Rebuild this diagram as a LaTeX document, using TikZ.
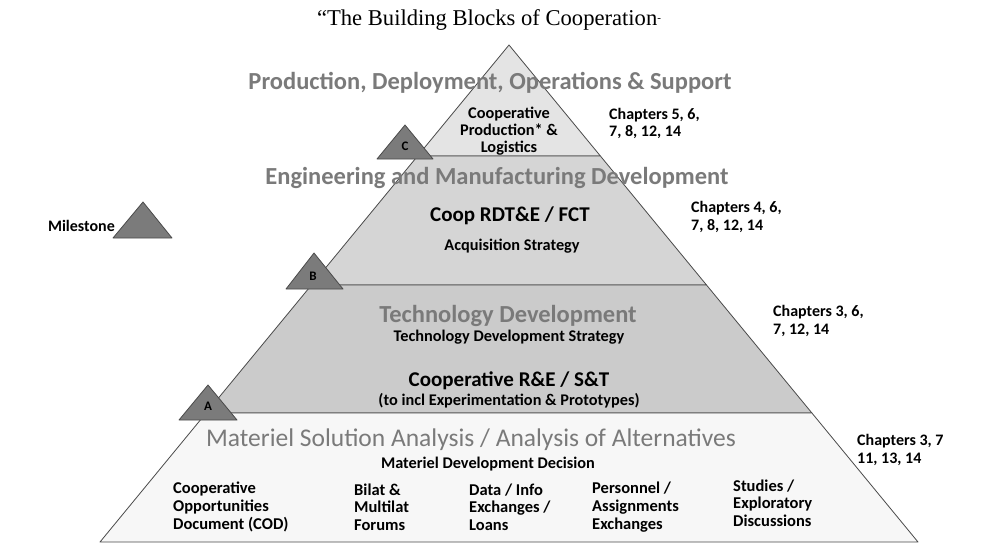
\documentclass[tikz,border=0pt]{standalone}
\usepackage{fontspec}
\setmainfont{Carlito}
\newfontfamily\titlefont{Liberation Serif}
\definecolor{phasegray}{HTML}{7A7A7A}
\definecolor{edgegray}{HTML}{4A4A4A}
\definecolor{bandA}{HTML}{E4E4E4}
\definecolor{bandB}{HTML}{D5D5D5}
\definecolor{bandC}{HTML}{CBCBCB}
\definecolor{bandD}{HTML}{F7F7F7}
\definecolor{msfill}{HTML}{7B7B7B}
\begin{document}
\begin{tikzpicture}[x=1pt,y=-1pt,
  band/.style={draw=edgegray, line width=0.8pt, line join=round},
  milestone/.style={fill=msfill, draw=edgegray, line width=0.8pt, line join=round},
  mslabel/.style={font=\bfseries\fontsize{13}{14}\selectfont, text=black, inner sep=0pt},
  phase/.style={font=\bfseries\fontsize{24.5}{28}\selectfont, text=phasegray, inner sep=0pt},
  phasereg/.style={font=\fontsize{25.5}{29}\selectfont, text=phasegray, inner sep=0pt},
  activity/.style={font=\bfseries\fontsize{21}{24}\selectfont, inner sep=0pt},
  note/.style={font=\bfseries\fontsize{16.3}{17}\selectfont, inner sep=0pt, align=center},
  chapters/.style={font=\bfseries\fontsize{16}{17.5}\selectfont, inner sep=0pt, align=left, anchor=west},
  column/.style={font=\bfseries\fontsize{16.5}{17.7}\selectfont, inner sep=0pt, align=left, anchor=west}
]
\useasboundingbox (0,0) rectangle (982,544);

% corner points of the pyramid bands
\coordinate (apex) at (509,45);
\coordinate (l1) at (417.6,156); \coordinate (r1) at (600.4,156);
\coordinate (l2) at (311.5,285); \coordinate (r2) at (706.5,285);
\coordinate (l3) at (206.1,413); \coordinate (r3) at (811.9,413);
\coordinate (l4) at (100,542);   \coordinate (r4) at (918,542);

% the four bands, top to bottom
\path[band, fill=bandA] (apex) -- (r1) -- (l1) -- cycle;
\path[band, fill=bandB] (l1) -- (r1) -- (r2) -- (l2) -- cycle;
\path[band, fill=bandC] (l2) -- (r2) -- (r3) -- (l3) -- cycle;
\path[band, fill=bandD] (l3) -- (r3) -- (r4) -- (l4) -- cycle;

% title
\node[font=\titlefont\fontsize{22.6}{26}\selectfont, inner sep=0pt] (title) at (489,20)
  {“The Building Blocks of Cooperation\raisebox{0.35ex}{\fontsize{11}{11}\selectfont -}};

% milestone legend and markers
\path[milestone] (113,238) -- (143,202) -- (172,238) -- cycle;
\node[font=\bfseries\fontsize{16}{18}\selectfont, anchor=east, inner sep=0pt] (legend) at (115,226) {Milestone};

\path[milestone] (377,159) -- (405,125) -- (433,159) -- cycle;
\node[mslabel] (msC) at (405,146) {C};
\path[milestone] (286,289) -- (314,253) -- (343,289) -- cycle;
\node[mslabel] (msB) at (313,276) {B};
\path[milestone] (179,420) -- (208,385) -- (237,420) -- cycle;
\node[mslabel] (msA) at (208,406) {A};

% phase titles
\node[phase] (pds) at (490,83) {Production, Deployment, Operations \& Support};
\node[phase] (emd) at (497,178) {Engineering and Manufacturing Development};
\node[phase] (td) at (508,316) {Technology Development};
\node[phasereg] (msa) at (471,440) {Materiel Solution Analysis / Analysis of Alternatives};

% band contents
\node[note] (prod) at (509,131) {Cooperative\\Production* \&\\Logistics};
\node[activity] (rdte) at (510,216) {Coop RDT\&E / FCT};
\node[note] (acq) at (512,246) {Acquisition Strategy};
\node[note] (tds) at (509,337) {Technology Development Strategy};
\node[activity] (re) at (509,381) {Cooperative R\&E / S\&T};
\node[note] (proto) at (509,401) {(to incl Experimentation \& Prototypes)};
\node[note] (mdd) at (488,464) {Materiel Development Decision};

% chapter references
\node[chapters] (ch1) at (609,123.5) {Chapters 5, 6,\\7, 8, 12, 14};
\node[chapters] (ch2) at (691,217) {Chapters 4, 6,\\7, 8, 12, 14};
\node[chapters] (ch3) at (773,321) {Chapters 3, 6,\\7, 12, 14};
\node[chapters] (ch4) at (857,450) {Chapters 3, 7\\11, 13, 14};

% cooperative activities in the bottom band
\node[column] (cod) at (173,507) {Cooperative\\Opportunities\\Document (COD)};
\node[column] (forums) at (354,507) {Bilat \&\\Multilat\\Forums};
\node[column] (data) at (469,507) {Data / Info\\Exchanges /\\Loans};
\node[column] (pers) at (592,507) {Personnel /\\Assignments\\Exchanges};
\node[column] (studies) at (733,503) {Studies /\\Exploratory\\Discussions};
\end{tikzpicture}
\end{document}
